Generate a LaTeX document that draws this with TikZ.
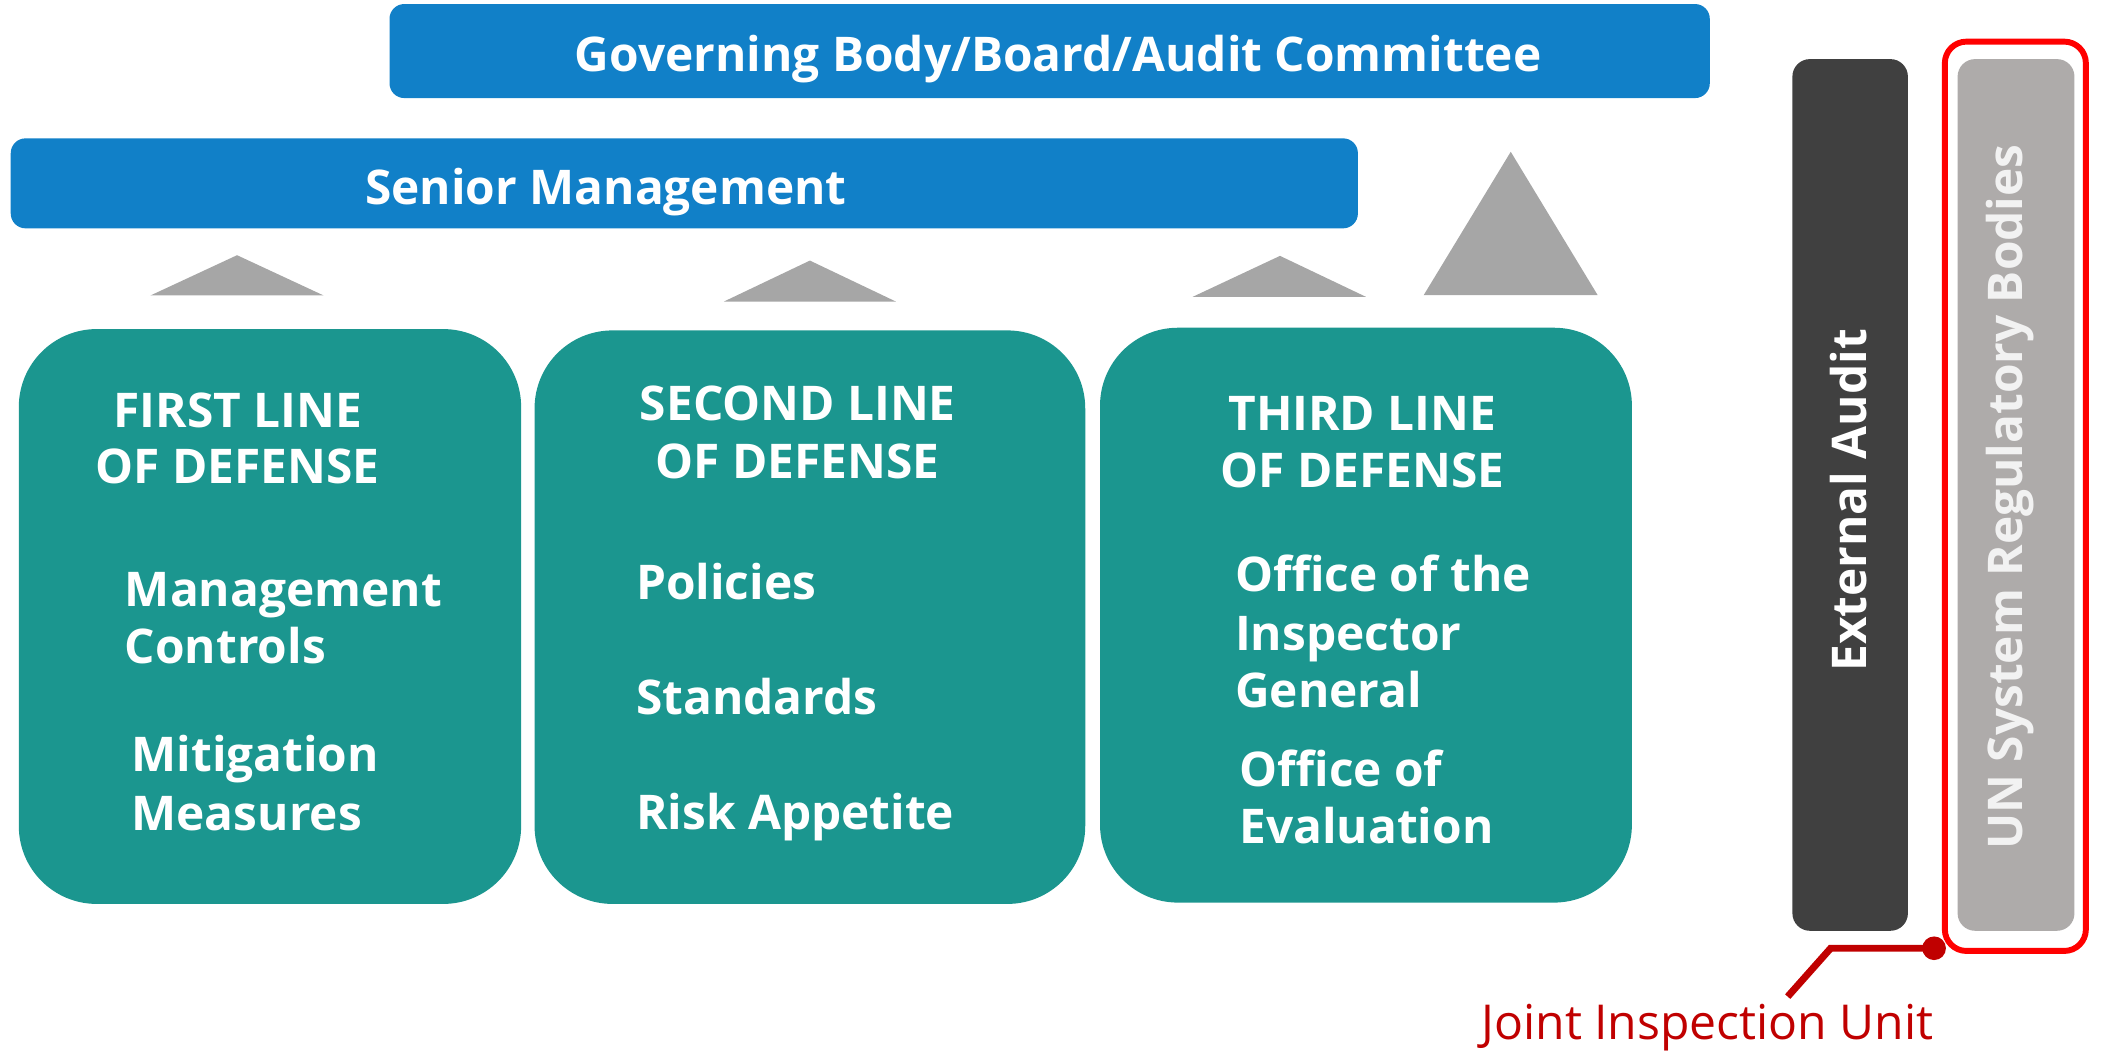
\documentclass[tikz,border=0pt]{standalone}
\usepackage{fontspec}
\setmainfont{Open Sans}
\definecolor{govblue}{HTML}{1180C8}
\definecolor{teal}{HTML}{1B968F}
\definecolor{trigray}{HTML}{A6A6A6}
\definecolor{eagray}{HTML}{404040}
\definecolor{ungray}{HTML}{AEABAA}
\definecolor{untext}{HTML}{F2F2F2}
\definecolor{outred}{HTML}{FF0000}
\definecolor{jiured}{HTML}{C00000}
\begin{document}
\begin{tikzpicture}[x=0.5pt,y=-0.5pt,
  bluebox/.style={fill=govblue,rounded corners=5.5pt,inner sep=0pt,outer sep=0pt},
  linebox/.style={fill=teal,rounded corners=29pt,inner sep=0pt,outer sep=0pt,minimum height=214pt},
  barbox/.style={rounded corners=6.5pt,inner sep=0pt,outer sep=0pt,minimum width=43pt,minimum height=324.5pt},
  txt/.style={inner sep=0pt,outer sep=0pt,text=white,font=\fontsize{17.8}{21}\selectfont\bfseries},
  head/.style={txt,anchor=base},
  item/.style={txt,anchor=base west},
  tri/.style={fill=trigray}
]
\useasboundingbox (0,0) rectangle (1568,782.5);

% top bars
\node[bluebox,minimum width=491.5pt,minimum height=35pt] (gov) at (781.5,38) {};
\node[txt,anchor=base west] (govtext) at (428,53) {Governing Body/Board/Audit Committee};
\node[bluebox,minimum width=501.5pt,minimum height=33.5pt] (sm) at (509.5,136.5) {};
\node[txt,anchor=base west] (smtext) at (272,152.6) {Senior Management};

% triangles
\fill[tri] (112,220) -- (176.5,190) -- (241,220) -- cycle;
\fill[tri] (539,224.5) -- (603,194) -- (667,224.5) -- cycle;
\fill[tri] (888,221) -- (953,190.5) -- (1017,221) -- cycle;
\fill[tri] (1060,219.7) -- (1124.8,113) -- (1189.5,219.7) -- cycle;

% lines of defense
\node[linebox,minimum width=187pt] (first) at (201,459) {};
\node[head] (firstA) at (177,318) {FIRST LINE};
\node[head] (firstB) at (177,359.7) {OF DEFENSE};
\node[item] (f1) at (93,451.7) {Management};
\node[item] (f2) at (93,493.8) {Controls};
\node[item] (f3) at (98,574.6) {Mitigation};
\node[item] (f4) at (98,618) {Measures};

\node[linebox,minimum width=205pt,minimum height=213.5pt] (second) at (603,459.5) {};
\node[head] (secondA) at (594,313.2) {SECOND LINE};
\node[head] (secondB) at (594,356.2) {OF DEFENSE};
\node[item] (s1) at (473.6,446.3) {Policies};
\node[item] (s2) at (473.6,531.9) {Standards};
\node[item] (s3) at (473.6,617.5) {Risk Appetite};

\node[linebox,minimum width=198pt] (third) at (1017,458) {};
\node[head] (thirdA) at (1014.3,320.2) {THIRD LINE};
\node[head] (thirdB) at (1014.3,362.9) {OF DEFENSE};
\node[item] (t1) at (919.6,440.6) {Office of the};
\node[item] (t2) at (919.6,484) {Inspector};
\node[item] (t3) at (919.6,526.7) {General};
\node[item] (t4) at (922.8,585.8) {Office of};
\node[item] (t5) at (922.8,628) {Evaluation};

% right bars
\node[barbox,fill=eagray] (ea) at (1377.5,368.5) {};
\node[txt,rotate=90,anchor=base] (eatext) at (1390,372.5) {External Audit};
\node[barbox,fill=ungray,minimum width=43.5pt] (un) at (1501,368.5) {};
\node[txt,text=untext,rotate=90,anchor=base] (untxt) at (1506,370) {UN System Regulatory Bodies};
\node[draw=outred,line width=2.2pt,rounded corners=8pt,inner sep=0pt,outer sep=0pt,minimum width=52.5pt,minimum height=338.5pt] (unframe) at (1500.5,369.5) {};

% callout
\coordinate (jiudot) at (1440,706);
\coordinate (jiubend) at (1363,706);
\coordinate (jiuend) at (1331,742);
\node[inner sep=0pt,outer sep=0pt,anchor=base west,text=jiured,font=\fontsize{17.9}{21}\selectfont] (jiu) at (1103,774) {Joint Inspection Unit};
\draw[jiured,line width=2.6pt] (jiudot) -- (jiubend) -- (jiuend);
\fill[jiured] (jiudot) circle (4.4pt);
\end{tikzpicture}
\end{document}
